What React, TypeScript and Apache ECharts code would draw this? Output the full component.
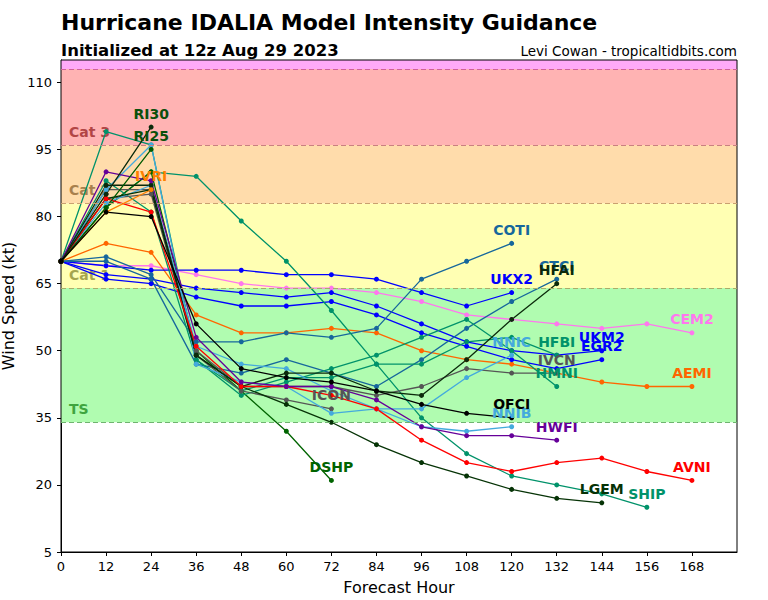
import React, { useEffect, useRef } from "react";
import * as echarts from "echarts";

const HOURS = [0, 12, 24, 36, 48, 60, 72, 84, 96, 108, 120, 132, 144, 156, 168];

const OFCI = [70, 81, 80, 56, 46, 44, 43, 41, 38, 36, 35];
const HWFI = [70, 90, 88, 53, 43, 42, 42, 39, 33, 31, 31, 30];
const AVNI = [70, 84, 81, 51, 42, 42, 40, 37, 30, 25, 23, 25, 26, 23, 21];
const LGEM = [70, 84, 86, 49, 42, 38, 34, 29, 25, 22, 19, 17, 16];
const SHIP = [70, 82, 90, 89, 79, 70, 59, 47, 35, 27, 22, 20, 18, 15];
const DSHP = [70, 82, 90, 50, 41, 32, 21];
const HFAI = [70, 87, 87, 49, 42, 45, 45, 41, 40, 48, 57, 65];
const IVCN = [70, 86, 86, 50, 42, 42, 42, 40, 42, 46, 45, 45];
const ICON = [70, 84, 85, 49, 41, 39, 37];
const NNIC = [70, 83, 87, 51, 47, 46, 41, 37, 37, 44, 49];
const NNIB = [70, 86, 96, 47, 43, 42, 36, 37, 33, 32, 33];
const HMNI = [70, 99, 96, 48, 40, 43, 46, 49, 53, 57, 50, 42];
const HFBI = [70, 88, 81, 48, 41, 44, 44, 47, 47, 52, 53, 49];
const COTI = [70, 71, 67, 52, 52, 54, 53, 55, 66, 70, 74];
const CTCI = [70, 70, 66, 47, 45, 48, 45, 42, 48, 55, 61, 66];
const UKX2 = [70, 69, 68, 68, 68, 67, 67, 66, 63, 60, 63];
const UKM2 = [70, 67, 66, 64, 63, 62, 63, 60, 56, 52, 50, 49, 50];
const EGR2 = [70, 66, 65, 62, 60, 60, 61, 58, 54, 51, 48, 46, 48];
const CEM2 = [70, 69, 69, 67, 65, 64, 64, 63, 61, 58, 57, 56, 55, 56, 54];
const AEMI = [70, 74, 72, 58, 54, 54, 55, 54, 50, 48, 47, 45, 43, 42, 42];
const IVRI = [70, 81, 86];
const RI30 = [70, 85, 100];
const RI25 = [70, 82, 95];

// Saffir-Simpson bands
const BAND_NAMES = ["TS", "Cat 1", "Cat 2", "Cat 3", "Cat 4"];
const BAND_LOW = [34, 64, 83, 96, 113];
const BAND_HIGH = [64, 83, 96, 113, 137];

const BAND_FILL = ["#b0fcb0", "#ffffb3", "#ffdcab", "#ffb3b3", "#ffaaf8"];
const BAND_LINE = ["#6fb46f", "#a9ad6a", "#c9a070", "#c98080", "#d0609a"];
const BAND_TEXT = ["#3fa53f", "#a5a54e", "#a8804d", "#b24545", "#b040a0"];

const FONT = "DejaVu Sans";

type Model = { name: string; values: number[]; color: string; labelColor?: string };

const MODELS: Model[] = [
  { name: "CEM2", values: CEM2, color: "#ff77ee" },
  { name: "AEMI", values: AEMI, color: "#ff6600" },
  { name: "UKX2", values: UKX2, color: "#0000ff" },
  { name: "UKM2", values: UKM2, color: "#0000ff" },
  { name: "EGR2", values: EGR2, color: "#0000ff" },
  { name: "COTI", values: COTI, color: "#16679c" },
  { name: "CTCI", values: CTCI, color: "#16679c" },
  { name: "SHIP", values: SHIP, color: "#00926a" },
  { name: "DSHP", values: DSHP, color: "#006400" },
  { name: "HMNI", values: HMNI, color: "#00926a" },
  { name: "HFBI", values: HFBI, color: "#00926a" },
  { name: "IVCN", values: IVCN, color: "#555555" },
  { name: "ICON", values: ICON, color: "#555555" },
  { name: "NNIC", values: NNIC, color: "#44aadd" },
  { name: "NNIB", values: NNIB, color: "#44aadd" },
  { name: "LGEM", values: LGEM, color: "#063306" },
  { name: "HFAI", values: HFAI, color: "#0b2a0b" },
  { name: "AVNI", values: AVNI, color: "#ff0000" },
  { name: "HWFI", values: HWFI, color: "#660099" },
  { name: "IVRI", values: IVRI, color: "#ff8000" },
  { name: "RI25", values: RI25, color: "#005a00", labelColor: "#0b500b" },
  { name: "RI30", values: RI30, color: "#0b2a0b", labelColor: "#0b500b" },
  { name: "OFCI", values: OFCI, color: "#000000" },
];

export default function App() {
  const ref = useRef<HTMLDivElement>(null);

  useEffect(() => {
    if (!ref.current) return;
    const chart = echarts.init(ref.current, null, { renderer: "svg" });

    const bandAreas = BAND_NAMES.map((n, i) => [
      {
        xAxis: 0,
        yAxis: BAND_LOW[i],
        itemStyle: { color: BAND_FILL[i], opacity: 1 },
        label: i < 4
          ? {
              show: true,
              formatter: n,
              position: "insideBottomLeft",
              distance: 5,
              offset: [3, -1],
              color: BAND_TEXT[i],
              fontFamily: FONT,
              fontWeight: "bold",
              fontSize: 14,
            }
          : { show: false },
      },
      { xAxis: 180, yAxis: BAND_HIGH[i] },
    ]);

    const bandLines = BAND_LOW.map((v, i) => ({
      yAxis: v,
      lineStyle: { color: BAND_LINE[i], type: [5, 3], width: 1.2 },
    }));

    const modelSeries = MODELS.map((m) => ({
      type: "line",
      name: m.name,
      z: 3,
      symbol: "circle",
      symbolSize: 5,
      lineStyle: { color: m.color, width: 1.3 },
      itemStyle: { color: m.color },
      data: m.values.map((v, i) => {
        const item: any = { value: [HOURS[i], v] };
        if (i === m.values.length - 1) {
          item.label = {
            show: true,
            formatter: m.name,
            position: "top",
            distance: 4,
            color: m.labelColor || m.color,
            fontFamily: FONT,
            fontWeight: "bold",
            fontSize: 14,
          };
        }
        return item;
      }),
    }));

    chart.setOption({
      animation: false,
      textStyle: { fontFamily: FONT },
      title: [
        {
          text: "Hurricane IDALIA Model Intensity Guidance",
          left: 61,
          top: 11,
          padding: 0,
          textStyle: { fontFamily: FONT, fontWeight: "bold", fontSize: 22, color: "#000" },
        },
        {
          text: "Initialized at 12z Aug 29 2023",
          left: 61,
          top: 42,
          padding: 0,
          textStyle: { fontFamily: FONT, fontWeight: "bold", fontSize: 16.5, color: "#000" },
        },
        {
          text: "Levi Cowan - tropicaltidbits.com",
          right: 31,
          top: 44,
          padding: 0,
          textStyle: { fontFamily: FONT, fontWeight: "normal", fontSize: 13.5, color: "#000" },
        },
      ],
      grid: {
        left: 61,
        right: 31,
        top: 60,
        bottom: 48,
        outerBoundsMode: "none",
        containLabel: false,
        show: true,
        borderColor: "#000",
        borderWidth: 1,
        backgroundColor: "transparent",
        z: 5,
      },
      xAxis: {
        type: "value",
        min: 0,
        max: 180,
        interval: 12,
        name: "Forecast Hour",
        nameLocation: "middle",
        nameGap: 27,
        nameTextStyle: { fontFamily: FONT, fontSize: 16, color: "#000" },
        axisLine: { show: true, lineStyle: { color: "#000", width: 1 } },
        axisTick: { show: true, length: 4, lineStyle: { color: "#000" } },
        axisLabel: {
          fontFamily: FONT,
          fontSize: 13,
          color: "#000",
          margin: 8,
          showMaxLabel: false,
        },
        splitLine: { show: false },
      },
      yAxis: {
        type: "value",
        min: 5,
        max: 115,
        interval: 15,
        name: "Wind Speed (kt)",
        nameLocation: "middle",
        nameGap: 31,
        nameTextStyle: { fontFamily: FONT, fontSize: 16, color: "#000" },
        axisLine: { show: true, lineStyle: { color: "#000", width: 1 } },
        axisTick: { show: true, length: 4, lineStyle: { color: "#000" } },
        axisLabel: {
          fontFamily: FONT,
          fontSize: 13,
          color: "#000",
          margin: 9,
          showMaxLabel: false,
        },
        splitLine: { show: false },
      },
      series: [
        {
          type: "line",
          name: "bands",
          z: 1,
          data: [],
          silent: true,
          markArea: { silent: true, data: bandAreas },
          markLine: {
            silent: true,
            symbol: "none",
            label: { show: false },
            data: bandLines,
          },
        },
        ...modelSeries,
      ],
    } as any);

    return () => chart.dispose();
  }, []);

  return (
    <div
      ref={ref}
      style={{ position: "fixed", left: 0, top: 0, width: 768, height: 600, background: "#fff" }}
    />
  );
}
